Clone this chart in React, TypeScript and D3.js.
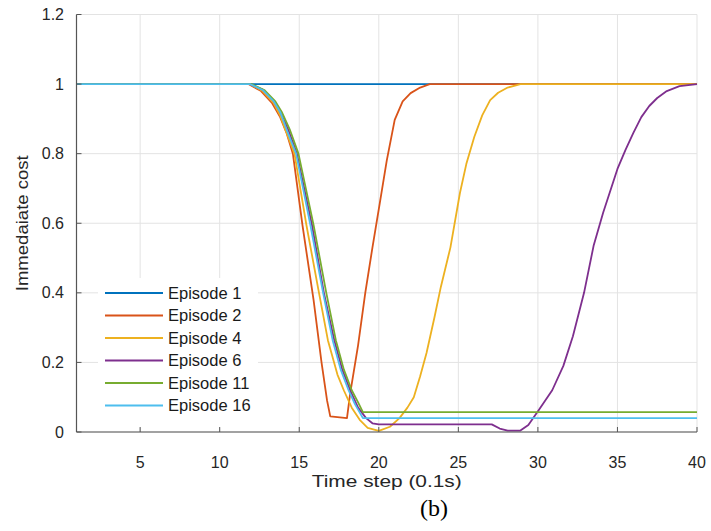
import React from 'react';
import * as d3 from 'd3';

// [time step, cost] pairs
const ep1: [number, number][] = [[1, 1], [40, 1]];
const ep2: [number, number][] = [
  [1, 1], [11.8, 1], [12.6, 0.98], [13.3, 0.945], [13.8, 0.905], [14.2, 0.86], [14.6, 0.8],
  [15.2, 0.595], [15.9, 0.38], [16.4, 0.2], [16.75, 0.09], [16.95, 0.045], [18.0, 0.04],
  [18.2, 0.11], [18.7, 0.25], [19.15, 0.4], [19.6, 0.53], [20.07, 0.66], [20.5, 0.78],
  [21.0, 0.897], [21.5, 0.95], [22.0, 0.974], [22.6, 0.99], [23.2, 1], [40, 1],
];
const ep4: [number, number][] = [
  [1, 1], [11.9, 1], [12.7, 0.98], [13.4, 0.945], [13.8, 0.91], [14.2, 0.86], [14.7, 0.8],
  [15.45, 0.595], [16.2, 0.41], [16.8, 0.264], [17.4, 0.165], [17.8, 0.12], [18.3, 0.07],
  [18.8, 0.035], [19.3, 0.012], [20.0, 0.003], [20.7, 0.015], [21.3, 0.04], [21.8, 0.07],
  [22.2, 0.1], [22.6, 0.16], [23.0, 0.227], [23.5, 0.33], [23.9, 0.417], [24.5, 0.53],
  [25.1, 0.687], [25.5, 0.77], [26.0, 0.848], [26.5, 0.91], [27.0, 0.954], [27.5, 0.975],
  [28.1, 0.99], [28.9, 1], [40, 1],
];
const ep6: [number, number][] = [
  [1, 1], [11.9, 1], [12.7, 0.984], [13.4, 0.952], [13.8, 0.92], [14.3, 0.87], [14.85, 0.8],
  [15.8, 0.595], [16.55, 0.4], [17.2, 0.264], [17.7, 0.18], [18.2, 0.12], [18.7, 0.07],
  [19.2, 0.04], [19.6, 0.025], [20.0, 0.022], [27.1, 0.022], [27.6, 0.01], [28.1, 0.004],
  [28.9, 0.004], [29.4, 0.02], [30.1, 0.066], [30.9, 0.12], [31.6, 0.19], [32.2, 0.275],
  [32.9, 0.4], [33.5, 0.535], [34.1, 0.63], [35.0, 0.756], [35.5, 0.81], [36.0, 0.86],
  [36.5, 0.905], [37.0, 0.937], [37.5, 0.96], [38.1, 0.98], [38.9, 0.994], [40, 1],
];
const ep11: [number, number][] = [
  [1, 1], [12.0, 1], [12.8, 0.983], [13.5, 0.95], [13.9, 0.92], [14.4, 0.87], [14.95, 0.8],
  [15.9, 0.595], [16.7, 0.4], [17.3, 0.264], [17.8, 0.18], [18.3, 0.12], [18.7, 0.085],
  [19.0, 0.057], [40, 0.057],
];
const ep16: [number, number][] = [
  [1, 1], [11.9, 1], [12.7, 0.983], [13.4, 0.95], [13.8, 0.92], [14.2, 0.87], [14.8, 0.8],
  [15.7, 0.595], [16.5, 0.4], [17.1, 0.264], [17.6, 0.18], [18.1, 0.12], [18.5, 0.08],
  [19.0, 0.04], [40, 0.04],
];

const seriesNames = ['Episode 1', 'Episode 2', 'Episode 4', 'Episode 6', 'Episode 11', 'Episode 16'];
const seriesData = [ep1, ep2, ep4, ep6, ep11, ep16];
const seriesColors = ['#0072BD', '#D95319', '#EDB120', '#7E2F8E', '#77AC30', '#4DBEEE'];

const xTicks = [5, 10, 15, 20, 25, 30, 35, 40];
const yTicks = [0, 0.2, 0.4, 0.6, 0.8, 1, 1.2];

const W = 711;
const H = 531;
const font = "'Liberation Sans', Arial, sans-serif";

export default function App() {
  const x = d3.scaleLinear().domain([1, 40]).range([76.5, 697]);
  const y = d3.scaleLinear().domain([0, 1.2]).range([432, 14.5]);
  const line = d3
    .line<[number, number]>()
    .x((d) => x(d[0]))
    .y((d) => y(d[1]));

  const axisColor = '#555';
  const gridColor = '#e3e3e3';
  const [x0, x1] = x.range();
  const [y0, y1] = y.range();

  return (
    <svg
      width={W}
      height={H}
      style={{ position: 'absolute', left: 0, top: 0, background: '#fff' }}
    >
      {/* grid */}
      {xTicks.map((t) => (
        <line key={'gx' + t} x1={x(t)} x2={x(t)} y1={y0} y2={y1} stroke={gridColor} strokeWidth={1} />
      ))}
      {yTicks.map((t) => (
        <line key={'gy' + t} x1={x0} x2={x1} y1={y(t)} y2={y(t)} stroke={gridColor} strokeWidth={1} />
      ))}

      {/* legend background hides the grid */}
      <rect x={98} y={278} width={160} height={150} fill="#fff" />

      {/* series */}
      {seriesData.map((d, i) => (
        <path
          key={seriesNames[i]}
          d={line(d) || ''}
          fill="none"
          stroke={seriesColors[i]}
          strokeWidth={1.8}
          strokeLinejoin="round"
        />
      ))}

      {/* axes */}
      <line x1={x0} x2={x0} y1={y0} y2={y1} stroke={axisColor} strokeWidth={1.2} />
      <line x1={x0} x2={x1} y1={y0} y2={y0} stroke={axisColor} strokeWidth={1.2} />
      {xTicks.map((t) => (
        <g key={'xt' + t}>
          <line x1={x(t)} x2={x(t)} y1={y0} y2={y0 - 5} stroke={axisColor} strokeWidth={1} />
          <text x={x(t)} y={468} textAnchor="middle" fontFamily={font} fontSize={16} fill="#262626">
            {t}
          </text>
        </g>
      ))}
      {yTicks.map((t) => (
        <g key={'yt' + t}>
          <line x1={x0} x2={x0 + 5} y1={y(t)} y2={y(t)} stroke={axisColor} strokeWidth={1} />
          <text
            x={64}
            y={y(t)}
            dy="0.35em"
            textAnchor="end"
            fontFamily={font}
            fontSize={16}
            fill="#262626"
          >
            {t}
          </text>
        </g>
      ))}

      {/* axis titles */}
      <text
        x={(x0 + x1) / 2}
        y={487}
        textAnchor="middle"
        fontFamily={font}
        fontSize={17}
        fill="#262626"
        textLength={150}
        lengthAdjust="spacingAndGlyphs"
      >
        Time step (0.1s)
      </text>
      <text
        transform={`translate(28,${(y0 + y1) / 2}) rotate(-90)`}
        textAnchor="middle"
        fontFamily={font}
        fontSize={17}
        fill="#262626"
        textLength={136}
        lengthAdjust="spacingAndGlyphs"
      >
        Immedaiate cost
      </text>

      {/* legend */}
      {seriesNames.map((name, i) => {
        const ly = 293 + i * 22.5;
        return (
          <g key={'lg' + name}>
            <line x1={105} x2={163} y1={ly} y2={ly} stroke={seriesColors[i]} strokeWidth={1.8} />
            <text x={168} y={ly} dy="0.35em" fontFamily={font} fontSize={16.5} fill="#1a1a1a">
              {name}
            </text>
          </g>
        );
      })}

      {/* panel label */}
      <text
        x={434}
        y={516}
        textAnchor="middle"
        fontFamily="'Liberation Serif', 'Times New Roman', serif"
        fontSize={24}
        fill="#000"
      >
        (b)
      </text>
    </svg>
  );
}
